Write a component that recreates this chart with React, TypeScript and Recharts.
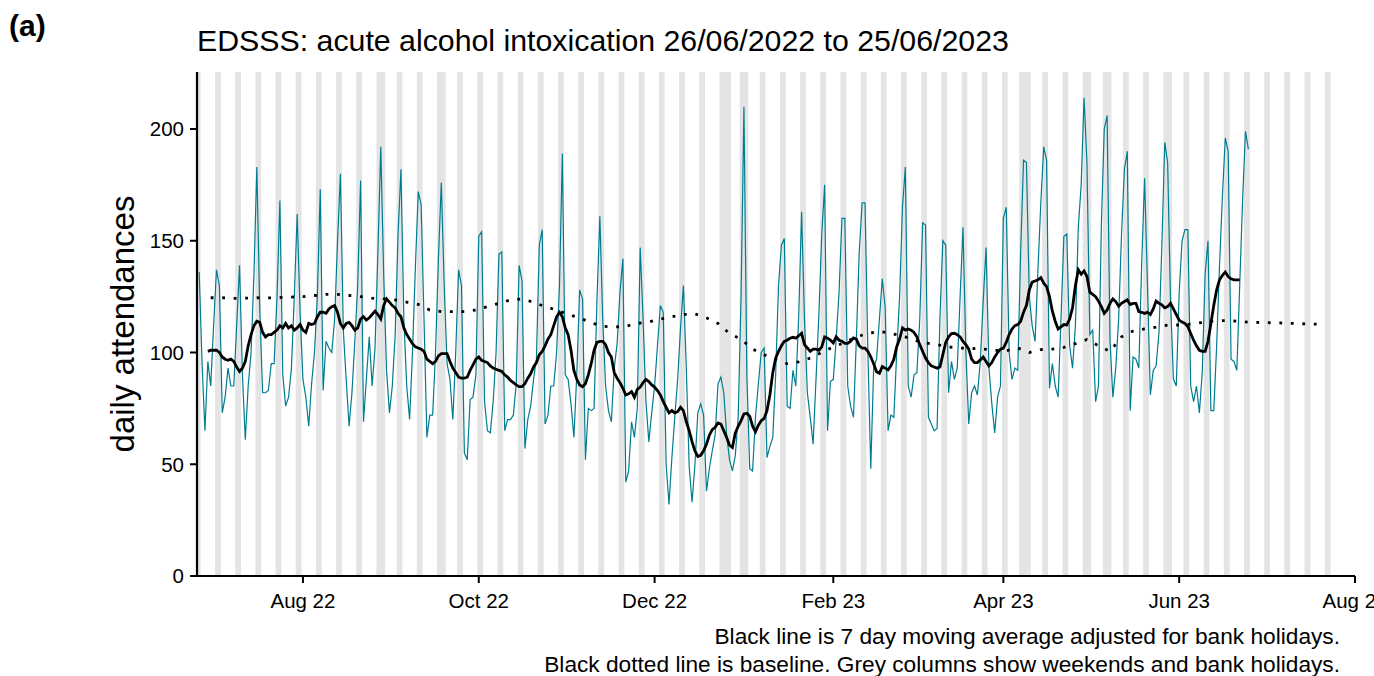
import React from 'react';
import { ComposedChart, Line, XAxis, YAxis, ReferenceArea } from 'recharts';

const FONT = '"Liberation Sans", Arial, sans-serif';

// daily attendances, day 0 = 26/06/2022 ... day 364 = 25/06/2023
const dailyCounts = [
  136, 95, 65, 96, 85, 112, 137,
  130, 73, 80, 93, 85, 85, 112,
  139, 90, 61, 85, 100, 135, 183,
  120, 82, 82, 83, 95, 95, 125,
  168, 90, 76, 80, 93, 125, 162,
  118, 88, 80, 67, 86, 100, 125,
  173, 83, 105, 102, 100, 115, 150,
  180, 110, 88, 67, 82, 105, 130,
  177, 69, 88, 107, 85, 102, 145,
  192, 135, 92, 73, 85, 108, 153,
  182, 115, 85, 70, 100, 138, 172,
  166, 115, 62, 72, 72, 100, 142,
  176, 130, 95, 88, 70, 100, 137,
  130, 55, 52, 79, 80, 90, 152,
  154, 78, 65, 64, 78, 100, 144,
  145, 65, 70, 70, 72, 86, 139,
  132, 57, 70, 76, 88, 97, 148,
  155, 68, 72, 85, 85, 100, 130,
  189, 90, 88, 77, 62, 90, 128,
  124, 52, 75, 74, 75, 123, 161,
  115, 85, 74, 69, 93, 104, 127,
  142, 42, 47, 69, 62, 75, 147,
  115, 78, 60, 73, 85, 103, 121,
  118, 50, 32, 53, 71, 88, 111,
  130, 93, 49, 33, 50, 73, 77,
  72, 38, 48, 56, 63, 86, 89,
  82, 63, 52, 47, 54, 71, 125,
  210, 90, 48, 47, 71, 86, 100,
  102, 53, 58, 62, 90, 130, 148,
  151, 76, 75, 92, 85, 116, 163,
  115, 82, 71, 59, 88, 117, 153,
  175, 65, 87, 88, 106, 127, 160,
  160, 85, 76, 71, 106, 145, 167,
  167, 100, 48, 93, 97, 115, 133,
  120, 65, 72, 71, 100, 125, 165,
  183, 85, 80, 90, 91, 115, 158,
  157, 71, 68, 65, 66, 115, 150,
  148, 82, 96, 88, 93, 125, 156,
  100, 68, 82, 85, 81, 96, 123,
  147, 93, 77, 64, 80, 85, 160,
  165, 100, 88, 93, 92, 145, 186,
  185, 125, 112, 105, 137, 167, 192,
  186, 84, 95, 85, 80, 115, 152,
  153, 103, 93, 112, 156, 175, 214,
  185, 108, 110, 78, 85, 157, 200,
  206, 105, 80, 93, 115, 153, 182,
  190, 74, 98, 97, 93, 140, 178,
  130, 81, 92, 94, 109, 148, 194,
  185, 123, 88, 85, 127, 150, 155,
  155, 85, 78, 85, 73, 91, 135,
  150, 74, 74, 103, 139, 170, 196,
  190, 97, 96, 92, 130, 168, 199,
  191,
];

// 7 day moving average, first value is day 3, last is day 361
const MA_FIRST_DAY = 3;
const movingAverage = [
  100.5, 101, 101, 101, 100, 98, 97,
  96.5, 97, 96, 93.5, 91.5, 93, 96,
  103, 108, 112, 114, 113.5, 109, 107,
  108, 108, 109, 110, 112, 111, 113,
  111, 112, 110, 111, 112.5, 110, 109,
  113, 112.5, 113, 116, 118, 118, 117.5,
  119.5, 120.5, 121, 118, 113, 111, 113,
  113.5, 112, 110, 111, 115, 116, 114.5,
  115.5, 117, 118.5, 117, 115, 121, 124,
  122.5, 121, 120, 117.5, 116, 111, 108,
  106, 104, 102.5, 102, 101.5, 100.5, 97,
  96, 95, 96, 98.5, 99.5, 99.5, 99.5,
  96, 93, 91, 89, 88.5, 88.5, 89,
  92, 94.5, 97, 98, 96.5, 96, 95.5,
  94, 93, 92.5, 92, 91.5, 90, 89,
  87.5, 86.5, 85.5, 84.7, 84.7, 86, 88.5,
  90.5, 93.5, 95.5, 99, 100.5, 103, 106,
  108, 112, 116, 118, 116, 111, 108,
  101, 92, 88, 85.5, 84.7, 86, 90,
  95, 101, 104.5, 105, 105, 103.5, 100,
  98, 91, 88.5, 86.5, 84, 81, 81.5,
  82.5, 80, 83.5, 84.5, 86.5, 88, 87,
  85.5, 84.5, 83, 81, 78, 75.5, 73,
  74, 73, 73.5, 75.5, 74, 69, 65,
  60, 56, 53.5, 54, 56, 59, 63,
  65.5, 66.5, 68.5, 68, 65, 62, 58.5,
  57.5, 64, 67, 69.5, 72.5, 72.8, 71.5,
  67, 64.5, 67.5, 69.5, 70.5, 74, 81,
  91, 97.5, 100.5, 103, 105, 105.5, 106.4,
  106.8, 106.4, 107.5, 108.6, 103.5, 102, 100.5,
  101.5, 101.5, 101, 102.5, 107, 106.4, 105.5,
  104.3, 107, 105.5, 105, 104.1, 104.1, 105,
  106.5, 106, 103, 102, 102, 100.5, 98,
  95, 91.4, 90.7, 93.7, 93, 92.2, 94,
  97, 102.6, 106, 111, 110, 110.5, 110,
  109, 107, 103.5, 100.5, 97.5, 95.5, 94,
  93.5, 93, 93.5, 99, 104.5, 107, 108.5,
  108.6, 108, 107, 105, 103.5, 101.5, 97,
  95.5, 95.5, 96.7, 98, 96, 94, 95.5,
  98, 100, 101.5, 102, 104.5, 108, 110.5,
  112, 112.5, 114, 118, 121, 128, 131.5,
  132, 132.5, 133.5, 131, 129.5, 125, 118.5,
  114, 110.5, 111.5, 112.5, 112.3, 115, 120,
  130, 137, 135, 136.5, 134, 127, 126,
  125, 123, 120.5, 117.5, 119, 122, 124,
  122.8, 120.7, 122, 122.8, 123.5, 121.5, 122,
  122, 118.3, 118, 117.5, 118, 117, 119.5,
  123, 122, 121.3, 120, 120.5, 122, 119.5,
  117, 114.5, 113.6, 113, 111.6, 108.5, 105.5,
  103, 101, 100.5, 100.5, 105, 113, 121,
  128, 132.5, 134.5, 136, 134, 133, 132.5,
  132.5, 132.5,
];

const baselineDays = [
  4, 8, 12, 16, 20, 24, 28, 32, 36, 40,
  44, 48, 52, 56, 60, 64, 68, 72, 76, 80,
  84, 88, 92, 96, 100, 104, 108, 112, 116, 120,
  124, 128, 132, 136, 140, 144, 148, 152, 156, 160,
  164, 168, 172, 176, 180, 184, 188, 192, 196, 200,
  204, 208, 212, 216, 220, 224, 228, 232, 236, 240,
  244, 248, 252, 256, 260, 264, 268, 272, 276, 280,
  284, 288, 292, 296, 300, 304, 308, 312, 316, 320,
  324, 328, 332, 336, 340, 344, 348, 352, 356, 360,
  364, 368, 372, 376, 380, 384, 388,
];
const baselineValues = [
  124.5, 124.5, 124.2, 124.3, 124.5, 124.4, 124.6, 124.8, 125, 125.5,
  126, 126, 125.5, 125, 124.3, 124, 123.5, 122.5, 121.5, 119,
  118.3, 118.3, 118.3, 119, 120.5, 122, 123.5, 124, 122.5, 120.5,
  119, 117, 115.5, 113.3, 111.7, 111.4, 111.7, 113, 113.7, 115,
  116, 117, 117.3, 115.5, 113, 108.5, 106, 101.5, 99, 97,
  95, 95.8, 97.5, 100, 102.5, 104.5, 107, 108.5, 109.5, 108.5,
  107.5, 105.5, 104.3, 103.5, 102.5, 102, 101.8, 101.6, 101, 100.8,
  102, 100, 101.3, 101.5, 102.3, 104, 105.8, 103, 100.5, 107,
  109.6, 110.6, 111.3, 112.3, 112.3, 112.7, 113.4, 114.2, 114.3, 114,
  113.6, 113.4, 113.3, 113.2, 113, 112.8, 112.7,
];

const xTickDays = [36, 97, 158, 220, 279, 340, 401];
const xTickLabels = ['Aug 22', 'Oct 22', 'Dec 22', 'Feb 23', 'Apr 23', 'Jun 23', 'Aug 23'];
const yTicks = [0, 50, 100, 150, 200];

const bankHolidays = [
  '2022-08-29', '2022-09-19', '2022-12-26', '2022-12-27', '2023-01-02',
  '2023-04-07', '2023-04-10', '2023-05-01', '2023-05-08', '2023-05-29',
];
const LAST_SHADED_DAY = 392;

const dateOf = (day: number) => new Date(2022, 5, 26 + day);
const isoOf = (dt: Date) =>
  `${dt.getFullYear()}-${String(dt.getMonth() + 1).padStart(2, '0')}-${String(dt.getDate()).padStart(2, '0')}`;

// weekends + bank holidays, merged into runs of consecutive days
const shadedRuns: [number, number][] = [];
for (let d = 0; d <= LAST_SHADED_DAY; d++) {
  const dt = dateOf(d);
  const off = dt.getDay() === 0 || dt.getDay() === 6 || bankHolidays.includes(isoOf(dt));
  if (!off) continue;
  const last = shadedRuns[shadedRuns.length - 1];
  if (last && last[1] === d - 1) last[1] = d;
  else shadedRuns.push([d, d]);
}

const baselineByDay: { [d: number]: number } = {};
baselineDays.forEach((d, i) => { baselineByDay[d] = baselineValues[i]; });

const chartData = [];
for (let d = 0; d <= 388; d++) {
  const maIdx = d - MA_FIRST_DAY;
  chartData.push({
    day: d,
    count: d < dailyCounts.length ? dailyCounts[d] : null,
    ma: maIdx >= 0 && maIdx < movingAverage.length ? movingAverage[maIdx] : null,
    baseline: baselineByDay[d] ?? null,
  });
}

const App: React.FC = () => {
  const tickStyle = { fill: '#000', fontSize: 20.5, fontFamily: FONT };
  return (
    <div style={{ position: 'absolute', left: 0, top: 0, width: 1374, height: 676, background: '#fff', overflow: 'hidden' }}>
      <ComposedChart width={1374} height={676} data={chartData} margin={{ top: 72, right: 19, left: 0, bottom: 0 }}>
        {shadedRuns.map(([a, b]) => (
          <ReferenceArea key={`wk-${a}`} x1={a - 0.5} x2={b + 0.5} ifOverflow="hidden" fill="#e4e4e4" fillOpacity={1} stroke="none" />
        ))}
        <XAxis
          type="number"
          dataKey="day"
          domain={[-0.76, 401]}
          allowDataOverflow
          ticks={xTickDays}
          interval={0}
          tickFormatter={(v: number) => xTickLabels[xTickDays.indexOf(v)] ?? ''}
          height={100}
          tick={tickStyle}
          tickSize={7}
          tickMargin={10}
          axisLine={{ stroke: '#000', strokeWidth: 2.2 }}
          tickLine={{ stroke: '#000', strokeWidth: 2 }}
        />
        <YAxis
          type="number"
          domain={[0, 225.5]}
          allowDataOverflow
          ticks={yTicks}
          interval={0}
          width={197}
          tick={tickStyle}
          tickSize={7}
          tickMargin={6}
          axisLine={{ stroke: '#000', strokeWidth: 2.2 }}
          tickLine={{ stroke: '#000', strokeWidth: 2 }}
        />
        <Line type="linear" dataKey="count" stroke="#007C91" strokeWidth={1.2} dot={false} activeDot={false} isAnimationActive={false} />
        <Line type="linear" dataKey="baseline" stroke="#000" strokeWidth={2.8} strokeDasharray="2.8 8.7" connectNulls dot={false} activeDot={false} isAnimationActive={false} />
        <Line type="linear" dataKey="ma" stroke="#000" strokeWidth={2.8} dot={false} activeDot={false} isAnimationActive={false} />
      </ComposedChart>
      <svg width={1374} height={676} style={{ position: 'absolute', left: 0, top: 0, pointerEvents: 'none' }}>
        <text x={9} y={36} fontFamily={FONT} fontWeight="bold" fontSize={30} fill="#000">(a)</text>
        <text x={197} y={51} fontFamily={FONT} fontSize={30.3} fill="#000">
          EDSSS: acute alcohol intoxication 26/06/2022 to 25/06/2023
        </text>
        <text x={134} y={324} transform="rotate(-90 134 324)" textAnchor="middle" fontFamily={FONT} fontSize={33} fill="#000">
          daily attendances
        </text>
        <text x={1340} y={644} textAnchor="end" fontFamily={FONT} fontSize={22.7} fill="#000">
          Black line is 7 day moving average adjusted for bank holidays.
        </text>
        <text x={1340} y={672} textAnchor="end" fontFamily={FONT} fontSize={22.7} fill="#000">
          Black dotted line is baseline. Grey columns show weekends and bank holidays.
        </text>
      </svg>
    </div>
  );
};

export default App;
